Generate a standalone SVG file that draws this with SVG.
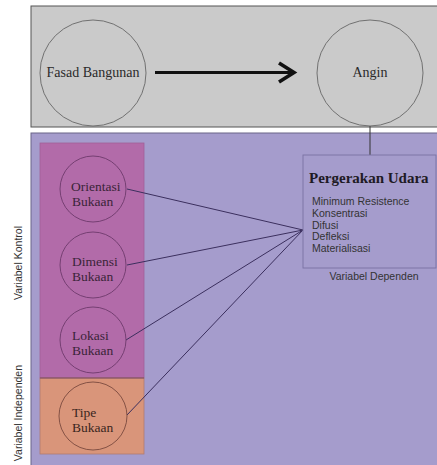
<svg xmlns="http://www.w3.org/2000/svg" width="437" height="465" viewBox="0 0 437 465">
<style>
.serif{font-family:"Liberation Serif","Times New Roman",serif;fill:#2a2a2a}
.cl{font-family:"Liberation Serif","Times New Roman",serif;font-size:13.5px;fill:#3a2438}
.sans{font-family:"Liberation Sans",Arial,sans-serif;font-size:10.5px;fill:#333}
.conn{stroke:#3b2f5e;stroke-width:1;fill:none}
</style>
<rect x="0" y="0" width="437" height="465" fill="#ffffff"/>
<g id="top-panel">
<rect x="31" y="6" width="410" height="121" fill="#cacaca" stroke="#555" stroke-width="1"/>
</g>
<g id="bottom-panel">
<rect x="31" y="133" width="410" height="340" fill="#a59ccc" stroke="#6a6488" stroke-width="1"/>
</g>
<g id="kontrol-panel">
<rect x="40" y="143" width="104" height="235" fill="#b26ba9" stroke="#a06098" stroke-width="0.8"/>
</g>
<g id="independen-panel">
<rect x="40" y="378" width="104" height="76" fill="#d9957a" stroke="#b07a70" stroke-width="0.8"/>
<line x1="40" y1="378" x2="144" y2="378" stroke="#7a4a60" stroke-width="1"/>
</g>
<g id="connectors">
<line x1="155" y1="72.5" x2="293" y2="72.5" stroke="#111" stroke-width="3.2"/>
<polyline points="279,63 294,72.5 279,82" fill="none" stroke="#111" stroke-width="3.6"/>
<line x1="370" y1="126" x2="370" y2="155" stroke="#333" stroke-width="1"/>
<line class="conn" x1="127" y1="189" x2="303" y2="230"/>
<line class="conn" x1="127" y1="265" x2="303" y2="230"/>
<line class="conn" x1="126" y1="340" x2="303" y2="230"/>
<line class="conn" x1="127" y1="415" x2="303" y2="230"/>
</g>
<g id="fasad">
<circle cx="93" cy="73" r="53" fill="none" stroke="#666" stroke-width="0.9"/>
<text class="serif" x="93" y="77" font-size="14" text-anchor="middle">Fasad Bangunan</text>
</g>
<g id="angin">
<circle cx="370" cy="73" r="53" fill="none" stroke="#666" stroke-width="0.9"/>
<text class="serif" x="370" y="77" font-size="14" text-anchor="middle">Angin</text>
</g>
<g id="orientasi">
<circle cx="93" cy="189" r="33" fill="none" stroke="#6e3a6c" stroke-width="0.9"/>
<text class="cl" x="71" y="191">Orientasi</text>
<text class="cl" x="72" y="206">Bukaan</text>
</g>
<g id="dimensi">
<circle cx="93" cy="265" r="33" fill="none" stroke="#6e3a6c" stroke-width="0.9"/>
<text class="cl" x="72" y="266">Dimensi</text>
<text class="cl" x="72" y="281">Bukaan</text>
</g>
<g id="lokasi">
<circle cx="93" cy="340" r="33" fill="none" stroke="#6e3a6c" stroke-width="0.9"/>
<text class="cl" x="72" y="340">Lokasi</text>
<text class="cl" x="72" y="355">Bukaan</text>
</g>
<g id="tipe">
<circle cx="93" cy="416" r="34" fill="none" stroke="#7a4a3e" stroke-width="0.9"/>
<text class="cl" x="72" y="417" style="fill:#3a2620">Tipe</text>
<text class="cl" x="72" y="432" style="fill:#3a2620">Bukaan</text>
</g>
<g id="pergerakan">
<rect x="303" y="155" width="133" height="113" fill="none" stroke="#7a72a2" stroke-width="0.9"/>
<text class="serif" x="309" y="183" font-size="15" font-weight="bold" style="fill:#1e1a24">Pergerakan Udara</text>
<text class="sans" x="312" y="205">Minimum Resistence</text>
<text class="sans" x="312" y="217">Konsentrasi</text>
<text class="sans" x="312" y="229">Difusi</text>
<text class="sans" x="312" y="240">Defleksi</text>
<text class="sans" x="312" y="252">Materialisasi</text>
<text class="sans" x="374" y="280" text-anchor="middle" font-size="10">Variabel Dependen</text>
</g>
<g id="labels">
<text class="sans" transform="translate(22,263) rotate(-90)" text-anchor="middle">Variabel Kontrol</text>
<text class="sans" transform="translate(22,365) rotate(-90)" text-anchor="end" font-size="10">Variabel Independen</text>
</g>
</svg>
